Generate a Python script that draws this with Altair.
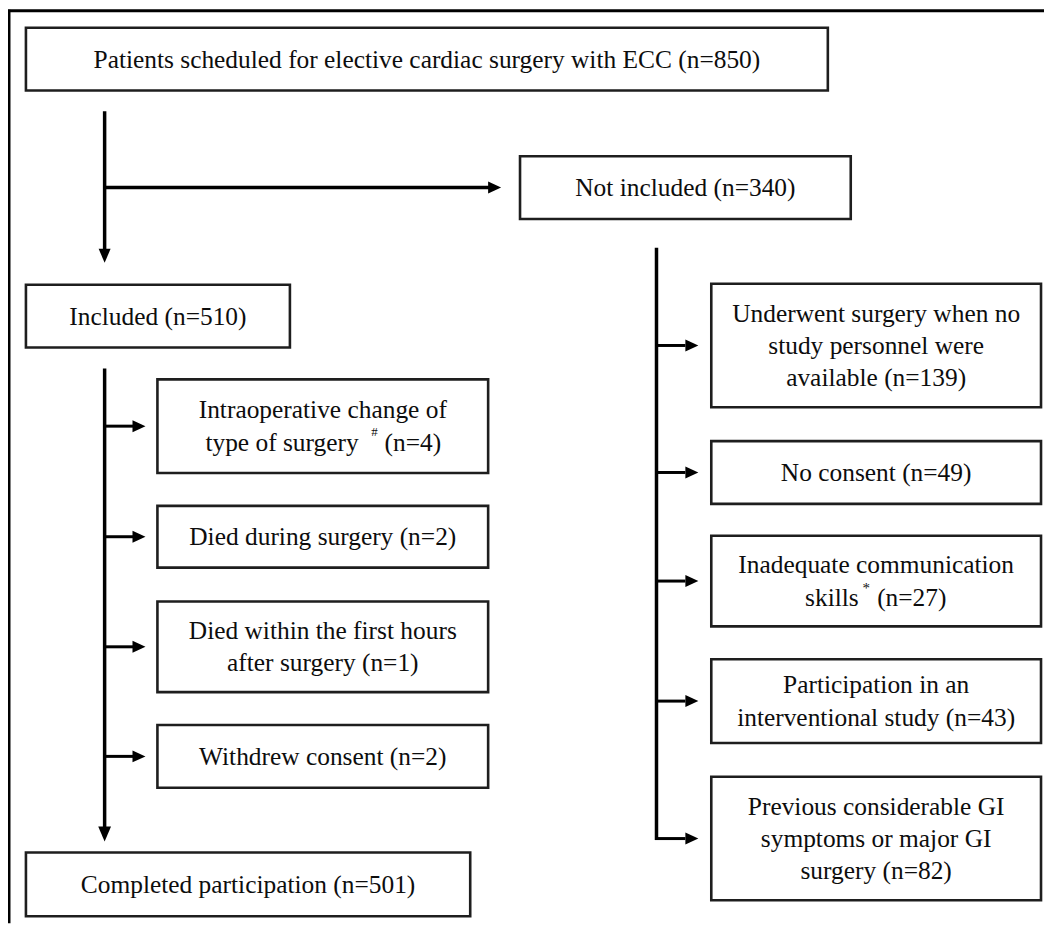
import altair as alt
import pandas as pd

# ---------------- content ----------------
BOX_LINES = [
    ["Patients scheduled for elective cardiac surgery with ECC"],
    ["Not included"],
    ["Included"],
    ["Intraoperative change of", "type of surgery"],
    ["Died during surgery"],
    ["Died within the first hours", "after surgery"],
    ["Withdrew consent"],
    ["Completed participation"],
    ["Underwent surgery when no", "study personnel were", "available"],
    ["No consent"],
    ["Inadequate communication", "skills"],
    ["Participation in an", "interventional study"],
    ["Previous considerable GI", "symptoms or major GI", "surgery"],
]
COUNTS = [850, 340, 510, 4, 2, 1, 2, 501, 139, 49, 27, 43, 82]
MARKERS = ["", "", "", "#", "", "", "", "", "", "", "*", "", ""]

# ---------------- layout (reference pixel coordinates) ----------------
BOX_X0 = [26, 522, 26, 158, 158, 158, 158, 26, 714, 714, 714, 714, 714]
BOX_X1 = [831, 854, 291, 490, 490, 490, 490, 472, 1045, 1045, 1045, 1045, 1045]
BOX_Y0 = [26, 155, 284, 379, 506, 602, 726, 854, 283, 441, 536, 660, 778]
BOX_Y1 = [89, 218, 347, 473, 568, 693, 789, 918, 407, 504, 627, 744, 902]
# marker line pieces, offsets from box centre: prefix right edge, marker centre, suffix left edge
MARKER_DX = {3: (36, 52, 62), 10: (-17.5, -10, 1)}
MARKER_DY = {"#": -15, "*": -13}
MARKER_SIZE = {"#": 13, "*": 15}

LEFT_TRUNK_X = 105
RIGHT_TRUNK_X = 659
LEFT_BRANCH_BOXES = [3, 4, 5, 6]
RIGHT_BRANCH_BOXES = [8, 9, 10, 11, 12]

W, H = 1040, 917
X0, Y0 = 8, 8
FONT = "Liberation Serif"
FS = 25.5
LH = 32.5
TXT = "#0d0d0d"
INK = "#000000"

# ---------------- tables ----------------
boxes = pd.DataFrame({"x0": BOX_X0, "x1": BOX_X1, "y0": BOX_Y0, "y1": BOX_Y1})
boxes["cx"] = (boxes.x0 + boxes.x1) / 2
boxes["cy"] = (boxes.y0 + boxes.y1) / 2

center_rows, right_rows, left_rows, marker_rows = [], [], [], []
for i, lines in enumerate(BOX_LINES):
    cx, cy = boxes.cx[i], boxes.cy[i]
    n = len(lines)
    for j, line in enumerate(lines):
        base = cy + 8.5 + (j - (n - 1) / 2) * LH
        last = j == n - 1
        if last and MARKERS[i]:
            dp, dm, ds = MARKER_DX[i]
            right_rows.append({"x": cx + dp, "y": base, "t": line})
            m = MARKERS[i]
            marker_rows.append({"x": cx + dm, "y": base + MARKER_DY[m], "t": m, "s": MARKER_SIZE[m]})
            left_rows.append({"x": cx + ds, "y": base, "t": f"(n={COUNTS[i]})"})
        elif last:
            center_rows.append({"x": cx, "y": base, "t": f"{line} (n={COUNTS[i]})"})
        else:
            center_rows.append({"x": cx, "y": base, "t": line})

segs, heads_down, heads_right = [], [], []


def seg(xa, ya, xb, yb, w=3.5):
    segs.append({"x": xa, "y": ya, "x2": xb, "y2": yb, "w": w})


# top trunk: screening -> included, with branch to "not included"
seg(LEFT_TRUNK_X, 110, LEFT_TRUNK_X, 249)
heads_down.append({"x": LEFT_TRUNK_X, "y": 255, "s": 196})
seg(LEFT_TRUNK_X, boxes.cy[1], BOX_X0[1] - 31, boxes.cy[1])
heads_right.append({"x": BOX_X0[1] - 25.5, "y": boxes.cy[1]})

# left trunk: included -> completed
seg(LEFT_TRUNK_X, 368, LEFT_TRUNK_X, 829)
heads_down.append({"x": LEFT_TRUNK_X, "y": 835.5, "s": 225})
for b in LEFT_BRANCH_BOXES:
    seg(LEFT_TRUNK_X, boxes.cy[b], BOX_X0[b] - 24, boxes.cy[b], 3)
    heads_right.append({"x": BOX_X0[b] - 18.5, "y": boxes.cy[b]})

# right trunk: not included -> reasons
last_y = boxes.cy[RIGHT_BRANCH_BOXES[-1]]
seg(RIGHT_TRUNK_X, 247, RIGHT_TRUNK_X, last_y + 1.5)
for b in RIGHT_BRANCH_BOXES:
    seg(RIGHT_TRUNK_X - 1.5, boxes.cy[b], BOX_X0[b] - 26, boxes.cy[b], 3)
    heads_right.append({"x": BOX_X0[b] - 19.5, "y": boxes.cy[b]})

frame = pd.DataFrame([
    {"x": 9, "y": 8, "x2": 9, "y2": 8 + H, "w": 3},
    {"x": 8, "y": 9, "x2": 8 + W, "y2": 9, "w": 3},
])

xs = alt.Scale(domain=[X0, X0 + W], nice=False, zero=False)
ys = alt.Scale(domain=[Y0, Y0 + H], nice=False, zero=False, reverse=True)


def X(f="x"):
    return alt.X(f"{f}:Q", scale=xs, axis=None)


def Y(f="y"):
    return alt.Y(f"{f}:Q", scale=ys, axis=None)


frame_layer = alt.Chart(frame).mark_rule(color=INK, strokeWidth=3).encode(
    x=X(), y=Y(), x2="x2:Q", y2="y2:Q"
)

rect_layer = alt.Chart(boxes).mark_rect(
    fill="white", stroke="#1e1e1e", strokeWidth=2.6
).encode(x=X("x0"), x2="x1:Q", y=Y("y0"), y2="y1:Q")

seg_df = pd.DataFrame(segs)
seg_layer = alt.Chart(seg_df).mark_rule(color=INK, strokeCap="butt").encode(
    x=X(), y=Y(), x2="x2:Q", y2="y2:Q",
    strokeWidth=alt.StrokeWidth("w:Q", scale=None, legend=None),
)

down_layer = alt.Chart(pd.DataFrame(heads_down)).mark_point(
    shape="M-0.857,-1L0.857,-1L0,1Z", filled=True, opacity=1, color=INK
).encode(x=X(), y=Y(), size=alt.Size("s:Q", scale=None, legend=None))

right_layer = alt.Chart(pd.DataFrame(heads_right)).mark_point(
    shape="M-1,-0.923L1,0L-1,0.923Z", filled=True, opacity=1, color=INK, size=169
).encode(x=X(), y=Y())

text_c = alt.Chart(pd.DataFrame(center_rows)).mark_text(
    font=FONT, fontSize=FS, align="center", baseline="alphabetic", color=TXT
).encode(x=X(), y=Y(), text="t:N")

text_r = alt.Chart(pd.DataFrame(right_rows)).mark_text(
    font=FONT, fontSize=FS, align="right", baseline="alphabetic", color=TXT
).encode(x=X(), y=Y(), text="t:N")

text_l = alt.Chart(pd.DataFrame(left_rows)).mark_text(
    font=FONT, fontSize=FS, align="left", baseline="alphabetic", color=TXT
).encode(x=X(), y=Y(), text="t:N")

text_m = alt.Chart(pd.DataFrame(marker_rows)).mark_text(
    font=FONT, align="center", baseline="alphabetic", color=TXT
).encode(x=X(), y=Y(), text="t:N", size=alt.Size("s:Q", scale=None, legend=None))

chart = alt.layer(
    frame_layer, seg_layer, rect_layer, down_layer, right_layer,
    text_c, text_r, text_l, text_m,
).properties(
    width=W, height=H, padding=0, autosize="none", background="white"
).configure_view(stroke=None)

chart.save("out.html", embed_options={"renderer": "svg", "actions": False})
